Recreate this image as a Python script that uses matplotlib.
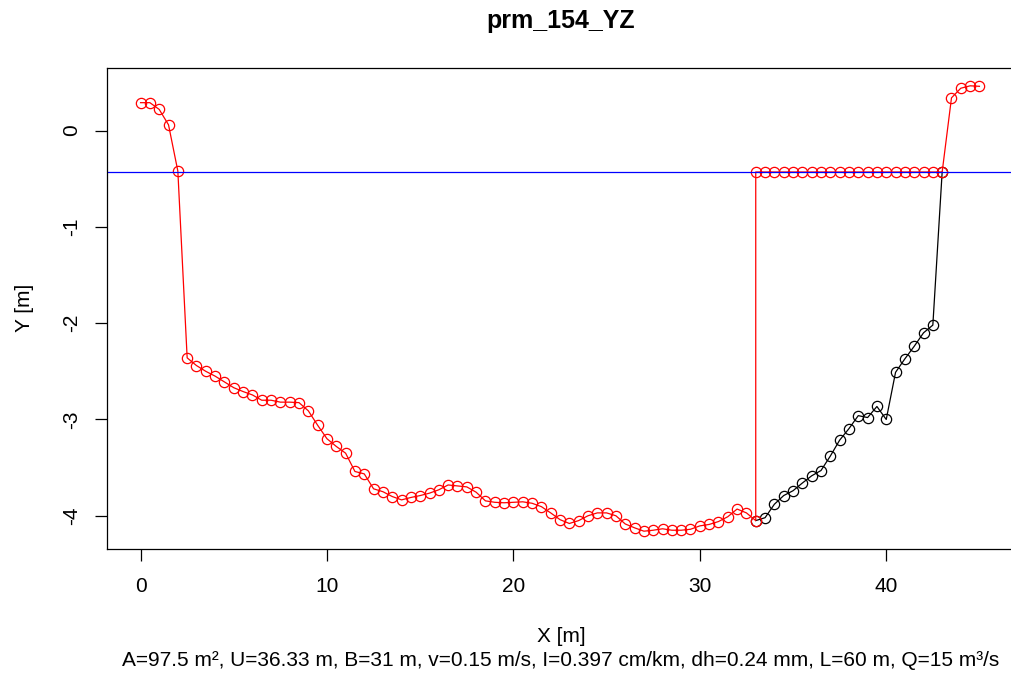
import matplotlib
matplotlib.use("Agg")
import matplotlib.pyplot as plt

plt.rcParams['font.family'] = ['Liberation Sans', 'DejaVu Sans']
plt.rcParams['axes.unicode_minus'] = False

# cross-section stations (m) and bed levels (m)
x_bed = [0.0, 0.5, 1.0, 1.5, 2.0, 2.5, 3.0, 3.5, 4.0, 4.5,
         5.0, 5.5, 6.0, 6.5, 7.0, 7.5, 8.0, 8.5, 9.0, 9.5,
         10.0, 10.5, 11.0, 11.5, 12.0, 12.5, 13.0, 13.5, 14.0, 14.5,
         15.0, 15.5, 16.0, 16.5, 17.0, 17.5, 18.0, 18.5, 19.0, 19.5,
         20.0, 20.5, 21.0, 21.5, 22.0, 22.5, 23.0, 23.5, 24.0, 24.5,
         25.0, 25.5, 26.0, 26.5, 27.0, 27.5, 28.0, 28.5, 29.0, 29.5,
         30.0, 30.5, 31.0, 31.5, 32.0, 32.5, 33.0, 33.5, 34.0, 34.5,
         35.0, 35.5, 36.0, 36.5, 37.0, 37.5, 38.0, 38.5, 39.0, 39.5,
         40.0, 40.5, 41.0, 41.5, 42.0, 42.5, 43.0, 43.5, 44.0, 44.5, 45.0]
y_bed = [0.29, 0.29, 0.22, 0.06, -0.42, -2.36, -2.44, -2.50, -2.55, -2.61,
         -2.67, -2.71, -2.745, -2.80, -2.80, -2.82, -2.82, -2.825, -2.91, -3.06,
         -3.20, -3.28, -3.35, -3.54, -3.565, -3.72, -3.75, -3.80, -3.835, -3.81,
         -3.79, -3.765, -3.73, -3.68, -3.69, -3.70, -3.755, -3.845, -3.86, -3.865,
         -3.86, -3.855, -3.87, -3.905, -3.97, -4.04, -4.08, -4.05, -4.00, -3.97,
         -3.97, -4.00, -4.085, -4.125, -4.16, -4.15, -4.135, -4.15, -4.15, -4.14,
         -4.105, -4.09, -4.06, -4.01, -3.93, -3.97, -4.05, -4.02, -3.88, -3.79,
         -3.74, -3.66, -3.585, -3.53, -3.38, -3.215, -3.095, -2.96, -2.98, -2.865,
         -3.00, -2.51, -2.37, -2.24, -2.10, -2.02, -0.43, 0.34, 0.44, 0.465, 0.46]

water_level = -0.43
wet_start = 33.0
wet_end = 43.0

title = "prm_154_YZ"
subtitle = ("A=97.5 m\u00b2, U=36.33 m, B=31 m, v=0.15 m/s, I=0.397 cm/km, "
            "dh=0.24 mm, L=60 m, Q=15 m\u00b3/s")

# wetted part of the bed (black) and the outline with water surface (red)
i0 = x_bed.index(wet_start)
i1 = x_bed.index(wet_end)
x_wet = x_bed[i0:i1 + 1]
y_wet = y_bed[i0:i1 + 1]
x_red = x_bed[:i0 + 1] + x_wet + x_bed[i1 + 1:]
y_red = y_bed[:i0 + 1] + [water_level] * len(x_wet) + y_bed[i1 + 1:]

fig = plt.figure(figsize=(10.11, 6.75), dpi=100)
ax = fig.add_axes([107 / 1011, 1 - 549 / 675, 906 / 1011, 481 / 675])

mk = dict(marker='o', markersize=7.4, markerfacecolor='none', markeredgewidth=0.9)
ax.plot(x_wet, y_wet, color='black', linewidth=0.9, **mk)
ax.plot(x_red, y_red, color='red', linewidth=0.9, **mk)
ax.axhline(water_level, color='blue', linewidth=0.9)

xr = max(x_bed) - min(x_bed)
yr = max(y_bed) - min(y_bed)
ax.set_xlim(min(x_bed) - 0.04 * xr, max(x_bed) + 0.04 * xr)
ax.set_ylim(min(y_bed) - 0.04 * yr, max(y_bed) + 0.04 * yr)
ax.set_xticks([0, 10, 20, 30, 40])
ax.set_yticks([0, -1, -2, -3, -4])

for s in ax.spines.values():
    s.set_linewidth(0.9)
ax.tick_params(direction='out', length=8.5, width=0.9, labelsize=15)
ax.tick_params(axis='x', pad=12)
ax.tick_params(axis='y', pad=10)
for lab in ax.get_yticklabels():
    lab.set_rotation(90)
    lab.set_va('center')

fig.text(561 / 1011, 1 - 21 / 675, title, ha='center', va='center',
         fontsize=18, fontweight='bold')
fig.text(561 / 1011, 1 - 636 / 675, "X [m]", ha='center', va='center', fontsize=15)
fig.text(561 / 1011, 1 - 661 / 675, subtitle, ha='center', va='center', fontsize=15)
fig.text(25 / 1011, 1 - 308 / 675, "Y [m]", ha='center', va='center',
         fontsize=15, rotation=90)

fig.savefig("out.png", dpi=100)
